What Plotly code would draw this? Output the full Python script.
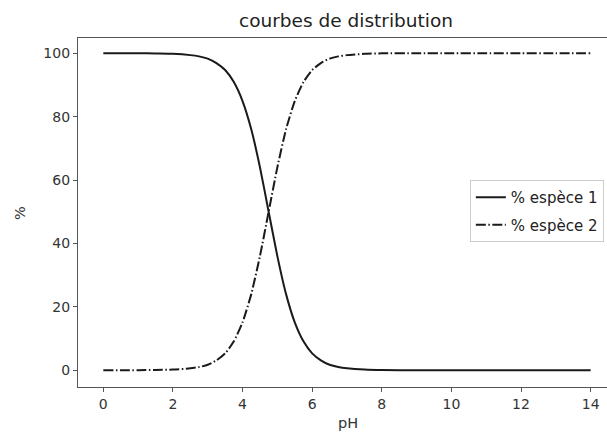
import plotly.graph_objects as go

ph = [0, 0.5, 1, 1.5, 2, 2.5, 2.75, 3, 3.25, 3.5, 3.75, 4, 4.25, 4.5, 4.75, 5, 5.25, 5.5,
      5.75, 6, 6.25, 6.5, 6.75, 7, 7.5, 8, 9, 10, 11, 12, 13, 14]
espece1 = [100, 100, 100, 99.9, 99.8, 99.4, 99.0, 98.3, 96.9, 94.7, 90.9, 84.9, 76.0, 64.0,
           50.0, 36.0, 24.0, 15.1, 9.1, 5.3, 3.1, 1.7, 1.0, 0.6, 0.2, 0.05, 0, 0, 0, 0, 0, 0]
espece2 = [0, 0, 0, 0.1, 0.2, 0.6, 1.0, 1.7, 3.1, 5.3, 9.1, 15.1, 24.0, 36.0,
           50.0, 64.0, 76.0, 84.9, 90.9, 94.7, 96.9, 98.3, 99.0, 99.4, 99.8, 99.95, 100, 100, 100, 100, 100, 100]
x_ticks = [0, 2, 4, 6, 8, 10, 12, 14]
y_ticks = [0, 20, 40, 60, 80, 100]

fig = go.Figure()
fig.add_trace(go.Scatter(x=ph, y=espece1, mode="lines", name="% espèce 1", legendgroup="a",
                         line=dict(color="#1a1a1a", width=2, shape="spline", smoothing=0.6)))
fig.add_trace(go.Scatter(x=ph, y=espece2, mode="lines", name="% espèce 2", legendgroup="b",
                         line=dict(color="#1a1a1a", width=2, shape="spline", smoothing=0.6,
                                   dash="10px,2.5px,1.5px,2.5px")))

axis_common = dict(showgrid=False, zeroline=False, showline=True, linecolor="#555555",
                   linewidth=1.2, ticks="outside", ticklen=4, tickcolor="#555555",
                   tickfont=dict(family="DejaVu Sans", size=14, color="#333333"))

fig.update_layout(
    width=607, height=434,
    margin=dict(l=78, r=0, t=38, b=47),
    paper_bgcolor="white", plot_bgcolor="white",
    title=dict(text="courbes de distribution", x=0.570, xanchor="center", y=0.953, yanchor="middle",
               font=dict(family="DejaVu Sans", size=18.5, color="#222222")),
    xaxis=dict(range=[-0.727, 14.47], tickvals=x_ticks, mirror=True, **axis_common),
    yaxis=dict(range=[-5.3, 104.8], tickvals=y_ticks, **axis_common),
    legend=dict(x=0.994, xanchor="right", y=0.504, yanchor="middle",
                bordercolor="#cccccc", borderwidth=1, bgcolor="white",
                tracegroupgap=5, itemwidth=30,
                font=dict(family="DejaVu Sans", size=15, color="#222222")),
    showlegend=True,
    annotations=[
        dict(text="pH", xref="paper", yref="paper", x=(348 - 78) / 529, y=-(423 - 387) / 349,
             xanchor="center", yanchor="middle", showarrow=False,
             font=dict(family="DejaVu Sans", size=14.5, color="#333333")),
        dict(text="%", xref="paper", yref="paper", x=-(78 - 20) / 529, y=(387 - 213) / 349,
             xanchor="center", yanchor="middle", showarrow=False, textangle=-90,
             font=dict(family="DejaVu Sans", size=14.5, color="#333333")),
    ],
)

fig.write_html("out.html")
